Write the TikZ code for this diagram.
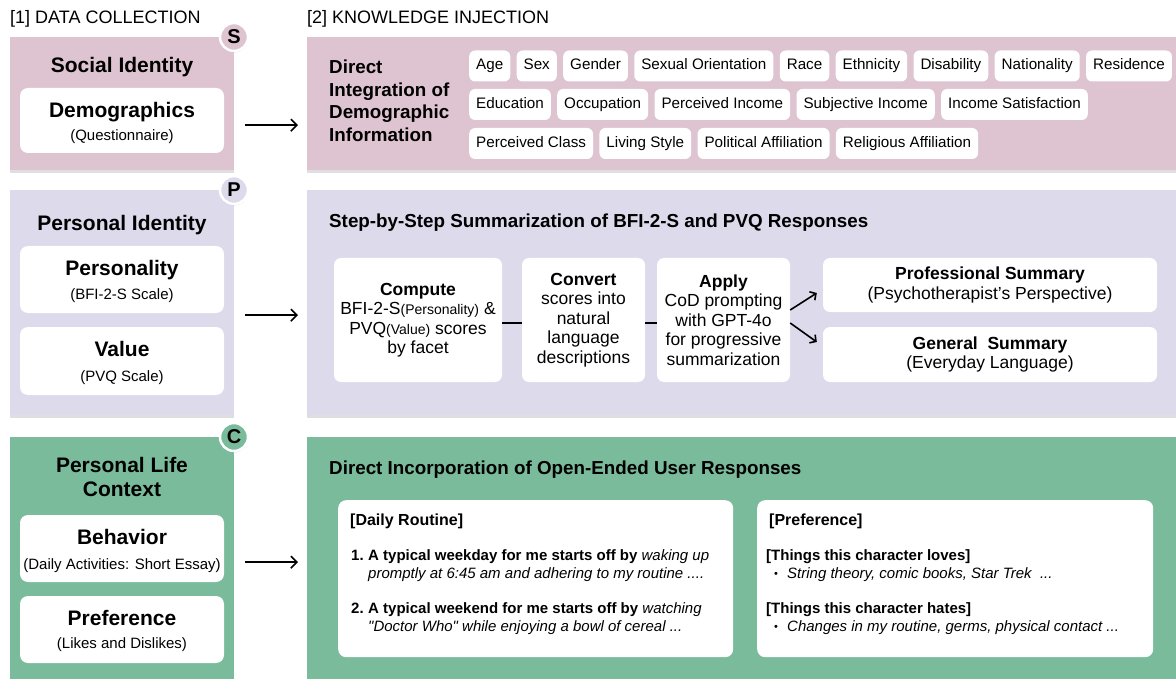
\documentclass[tikz,border=0pt]{standalone}
\usepackage{fontspec}
\setmainfont{Liberation Sans}[Ligatures=TeXOff]
\usetikzlibrary{positioning,shadows,arrows.meta}
\definecolor{socialbg}{HTML}{DEC4D1}
\definecolor{personalbg}{HTML}{DCDAEB}
\definecolor{contextbg}{HTML}{79BB9B}
\newcommand{\fsz}[2]{\fontsize{#1}{#2}\selectfont}

\begin{document}
\begin{tikzpicture}[x=1pt, y=-1pt,
    panel/.style={rectangle, inner sep=0pt, anchor=north west,
        drop shadow={opacity=0.25, shadow xshift=0pt, shadow yshift=-2.5pt}},
    card/.style={rectangle, fill=white, rounded corners=8pt, inner sep=0pt,
        minimum width=204pt},
    tag/.style={rectangle, fill=white, rounded corners=6pt,
        inner xsep=7pt, inner ysep=0pt, minimum height=31pt,
        text height=11pt, text depth=3.5pt, font=\fsz{15.2}{18}},
    badge/.style={circle, draw=white, line width=2.5pt, minimum size=28pt,
        inner sep=0pt, font=\bfseries\fsz{20}{22},
        drop shadow={opacity=0.3, shadow xshift=0pt, shadow yshift=-1.5pt}},
    hdr/.style={anchor=base west, inner sep=0pt, font=\fsz{18}{20}},
    ttl/.style={anchor=base, inner sep=0pt, font=\bfseries\fsz{21}{25}},
    sub/.style={anchor=base, inner sep=0pt, font=\fsz{15}{17}},
    sec/.style={anchor=base west, inner sep=0pt, font=\bfseries\fsz{18.8}{21}},
    stepbox/.style={rectangle, fill=white, rounded corners=7pt, inner sep=0pt,
        align=center, font=\fsz{17.5}{19.5}},
    txt/.style={anchor=base west, inner sep=0pt, font=\fsz{15}{17}},
    arr/.style={-{Straight Barb[length=6pt, width=12pt]}, line width=1.6pt}
]
\fill[white] (0,0) rectangle (1176,679);
\useasboundingbox (0,0) rectangle (1176,679);

% headers
\node[hdr] (h1) at (10,24) {[1] DATA COLLECTION};
\node[hdr] (h2) at (307,24) {[2] KNOWLEDGE INJECTION};

% panels
\node[panel, fill=socialbg, minimum width=224pt, minimum height=133pt] (socL) at (10,37) {};
\node[panel, fill=socialbg, minimum width=869pt, minimum height=133pt] (socR) at (307,37) {};
\node[panel, fill=personalbg, minimum width=224pt, minimum height=225pt] (perL) at (10,190) {};
\node[panel, fill=personalbg, minimum width=869pt, minimum height=225pt] (perR) at (307,190) {};
\node[panel, fill=contextbg, minimum width=224pt, minimum height=242pt] (ctxL) at (10,437) {};
\node[panel, fill=contextbg, minimum width=869pt, minimum height=242pt] (ctxR) at (307,437) {};

\node[badge, fill=socialbg] (bS) at (234,37) {S};
\node[badge, fill=personalbg] (bP) at (234,190) {P};
\node[badge, fill=contextbg] (bC) at (234,437) {C};

% [1] social identity
\node[ttl] (socT) at (122,72.5) {Social Identity};
\node[card, minimum height=65pt] (demo) at (122,120.5) {};
\node[ttl] (demoT) at (122,117.5) {Demographics};
\node[sub] (demoS) at (122,141) {(Questionnaire)};

% [1] personal identity
\node[ttl] (perT) at (122,230.5) {Personal Identity};
\node[card, minimum height=67pt] (pers) at (122,279.5) {};
\node[ttl] (persT) at (122,275.5) {Personality};
\node[sub] (persS) at (122,300) {(BFI-2-S Scale)};
\node[card, minimum height=68pt] (val) at (122,361) {};
\node[ttl] (valT) at (122,356.5) {Value};
\node[sub] (valS) at (122,381) {(PVQ Scale)};

% [1] personal life context
\node[ttl] (ctxT1) at (122,472.5) {Personal Life};
\node[ttl] (ctxT2) at (122,496.5) {Context};
\node[card, minimum height=67pt] (beh) at (122,548.5) {};
\node[ttl] (behT) at (122,544.5) {Behavior};
\node[sub] (behS) at (122,569) {(Daily Activities: Short Essay)};
\node[card, minimum height=67pt] (pref) at (122,629.5) {};
\node[ttl] (prefT) at (122,625.5) {Preference};
\node[sub] (prefS) at (122,648) {(Likes and Dislikes)};

% arrows between the two columns
\draw[arr, shorten <=11pt, shorten >=9pt] ([yshift=-21.5pt]socL.east) -- ([yshift=-21.5pt]socR.west);
\draw[arr, shorten <=11pt, shorten >=9pt] ([yshift=-12.5pt]perL.east) -- ([yshift=-12.5pt]perR.west);
\draw[arr, shorten <=11pt, shorten >=9pt] ([yshift=-4pt]ctxL.east) -- ([yshift=-4pt]ctxR.west);

% [2] demographic tags
\node[sec] (diT1) at (329,74) {Direct};
\node[sec] (diT2) at (329,97) {Integration of};
\node[sec] (diT3) at (329,119) {Demographic};
\node[sec] (diT4) at (329,142) {Information};

\node[tag, anchor=west] (age) at (469,66) {Age};
\node[tag, right=6pt of age] (sex) {Sex};
\node[tag, right=6pt of sex] (gender) {Gender};
\node[tag, right=6pt of gender] (sexor) {Sexual Orientation};
\node[tag, right=6pt of sexor] (race) {Race};
\node[tag, right=6pt of race] (ethn) {Ethnicity};
\node[tag, right=6pt of ethn] (disab) {Disability};
\node[tag, right=6pt of disab] (nation) {Nationality};
\node[tag, right=6pt of nation] (resid) {Residence};

\node[tag, anchor=west] (edu) at (469,104.5) {Education};
\node[tag, right=6pt of edu] (occ) {Occupation};
\node[tag, right=6pt of occ] (pinc) {Perceived Income};
\node[tag, right=6pt of pinc] (sinc) {Subjective Income};
\node[tag, right=6pt of sinc] (isat) {Income Satisfaction};

\node[tag, anchor=west] (pcls) at (469,143.5) {Perceived Class};
\node[tag, right=6pt of pcls] (lsty) {Living Style};
\node[tag, right=6pt of lsty] (pol) {Political Affiliation};
\node[tag, right=6pt of pol] (rel) {Religious Affiliation};

% [2] step-by-step summarization
\node[sec] (sumT) at (329,227.5) {Step-by-Step Summarization of BFI-2-S and PVQ Responses};

\node[stepbox, minimum width=168pt, minimum height=124pt] (comp) at (418,320)
    {\textbf{Compute}\\BFI-2-S{\fsz{14}{19.5}(Personality)} \&\\PVQ{\fsz{14}{19.5}(Value)} scores\\by facet};
\node[stepbox, minimum width=123pt, minimum height=124pt] (conv) at (583.5,320)
    {\textbf{Convert}\\scores into\\natural\\language\\descriptions};
\node[stepbox, minimum width=133pt, minimum height=124pt] (apply) at (723.5,320)
    {\textbf{Apply}\\CoD prompting\\with GPT-4o\\for progressive\\summarization};
\node[stepbox, minimum width=334pt, minimum height=54pt] (prof) at (990,285)
    {\textbf{Professional Summary}\\(Psychotherapist’s Perspective)};
\node[stepbox, minimum width=334pt, minimum height=55pt] (gen) at (990,354.5)
    {\textbf{General\ \ Summary}\\(Everyday Language)};

\draw[line width=1.5pt] ([yshift=-3pt]comp.east) -- ([yshift=-3pt]conv.west);
\draw[line width=1.5pt] ([yshift=-3pt]conv.east) -- ([yshift=-3pt]apply.west);
\draw[arr, -{Straight Barb[length=4.5pt, width=10pt]}] ([yshift=10pt]apply.east) -- ([xshift=-6pt, yshift=-8pt]prof.west);
\draw[arr, -{Straight Barb[length=4.5pt, width=10pt]}] ([yshift=-3pt]apply.east) -- ([xshift=-6pt, yshift=12.5pt]gen.west);

% [2] open-ended responses
\node[sec] (openT) at (329,474.5) {Direct Incorporation of Open-Ended User Responses};

\node[card, anchor=north west, minimum width=395pt, minimum height=157pt] (routine) at (338,500) {};
\node[card, anchor=north west, minimum width=396pt, minimum height=157pt] (prefer) at (757,500) {};

\node[txt, font=\bfseries\fsz{16}{18}] (rtT) at (350,525.5) {[Daily Routine]};
\node[txt] (n1) at (351,560) {\textbf{1.}};
\node[txt] (r1a) at (368,560) {\textbf{A typical weekday for me starts off by} \textit{waking up}};
\node[txt] (r1b) at (368,578) {\textit{promptly at 6:45 am and adhering to my routine ....}};
\node[txt] (n2) at (351,613) {\textbf{2.}};
\node[txt] (r2a) at (368,613) {\textbf{A typical weekend for me starts off by} \textit{watching}};
\node[txt] (r2b) at (368,631) {\textit{"Doctor Who" while enjoying a bowl of cereal ...}};

\node[txt, font=\bfseries\fsz{16}{18}] (pfT) at (769,525) {[Preference]};
\node[txt] (lovT) at (766,560) {\textbf{[Things this character loves]}};
\node[txt, font=\fsz{11}{13}] (b1) at (774,577) {•};
\node[txt] (lov) at (787,578) {\textit{String theory, comic books, Star Trek\ \ ...}};
\node[txt] (hatT) at (766,613) {\textbf{[Things this character hates]}};
\node[txt, font=\fsz{11}{13}] (b2) at (774,630) {•};
\node[txt] (hat) at (787,631) {\textit{Changes in my routine, germs, physical contact ...}};
\end{tikzpicture}
\end{document}
